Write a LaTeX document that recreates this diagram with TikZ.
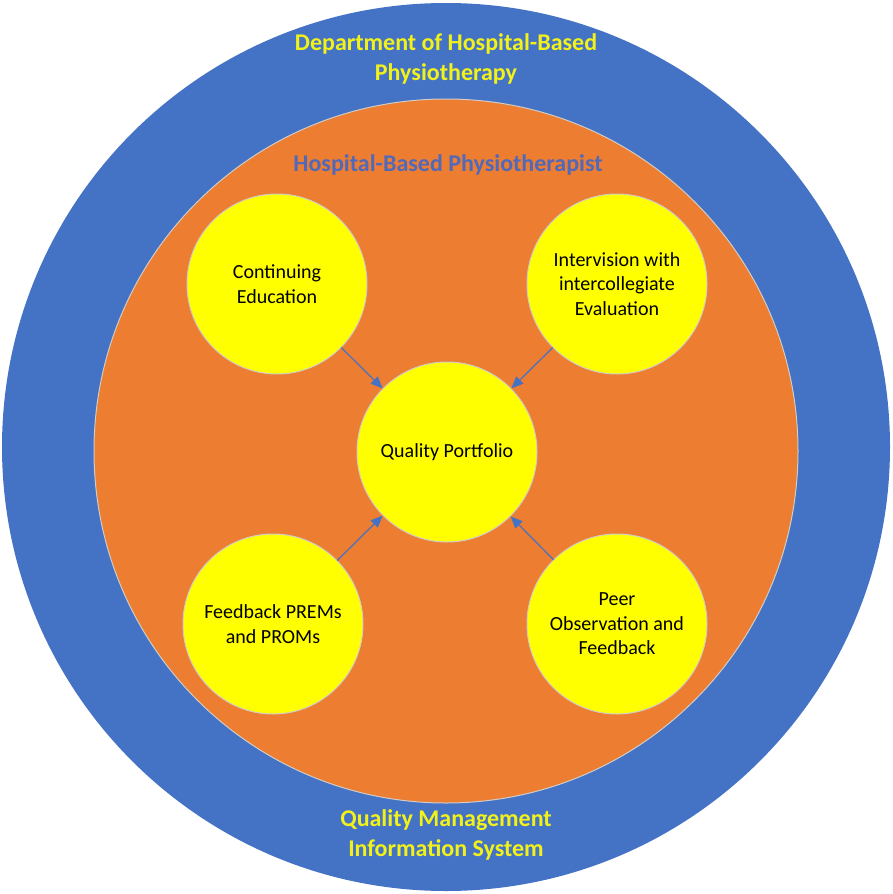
\documentclass[tikz,border=0pt]{standalone}
\usepackage{fontspec}
\setmainfont{Carlito}
\usetikzlibrary{arrows.meta}
\definecolor{ringblue}{HTML}{4472C4}
\definecolor{ringorange}{HTML}{ED7D31}
\definecolor{discyellow}{HTML}{FFFF00}
\definecolor{edgegrey}{HTML}{D0CCC8}
\definecolor{titleblue}{HTML}{5268B8}
\definecolor{labelyellow}{HTML}{F2F21A}
\tikzset{
  ring/.style={circle, inner sep=0pt, outer sep=0pt},
  disc/.style={circle, fill=discyellow, draw=edgegrey, line width=1pt, minimum size=180pt, inner sep=0pt, align=center, font=\fontsize{20}{24.5}\selectfont, text=black},
  outerlabel/.style={align=center, text=labelyellow, font=\bfseries\fontsize{24}{29.5}\selectfont},
  innerlabel/.style={align=center, text=titleblue, font=\bfseries\fontsize{24}{29.5}\selectfont},
  flow/.style={draw=ringblue, line width=1.2pt, -{Triangle[length=12pt,width=10pt]}}
}
\begin{document}
\begin{tikzpicture}[x=1pt,y=-1pt]
\useasboundingbox (0,0) rectangle (893,894);
\node[ring, fill=ringblue, minimum size=888pt] (outer) at (446,447) {};
\node[ring, fill=ringorange, draw=edgegrey, line width=1pt, minimum size=704pt] (inner) at (446,451) {};
\node[outerlabel] (dept) at (446,59) {Department of Hospital-Based\\Physiotherapy};
\node[outerlabel] (qmis) at (446,835) {Quality Management\\Information System};
\node[innerlabel] (hbp) at (448,165) {Hospital-Based Physiotherapist};
\node[disc] (qp) at (447,452) {Quality Portfolio};
\node[disc] (ce) at (277,284) {Continuing\\Education};
\node[disc] (iv) at (617,284) {Intervision with\\intercollegiate\\Evaluation};
\node[disc] (fb) at (273,624) {Feedback PREMs\\and PROMs};
\node[disc] (po) at (617,624) {Peer\\Observation and\\Feedback};
\draw[flow] (ce) -- (qp);
\draw[flow] (iv) -- (qp);
\draw[flow] (fb) -- (qp);
\draw[flow] (po) -- (qp);
\end{tikzpicture}
\end{document}
